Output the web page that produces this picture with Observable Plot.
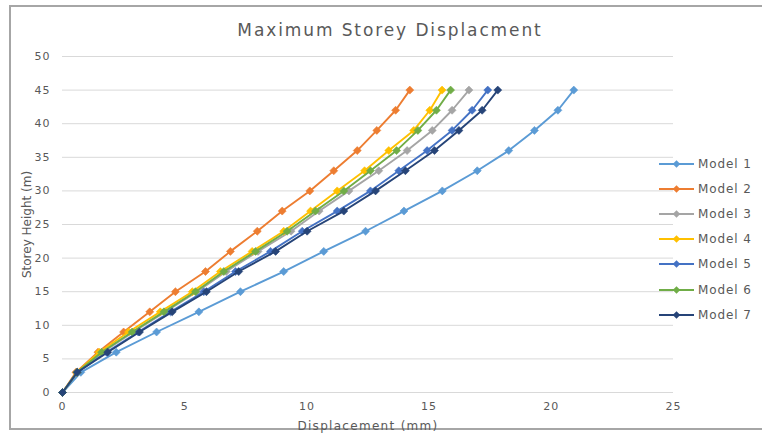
<!DOCTYPE html>
<html>
<head>
<meta charset="utf-8">
<script src="https://cdn.jsdelivr.net/npm/d3@7"></script>
<script src="https://cdn.jsdelivr.net/npm/@observablehq/plot@0.6"></script>
<style>
  body { margin: 0; background: #fff; }
  #chart { position: relative; width: 762px; height: 434px; overflow: hidden; font-family: "DejaVu Sans", sans-serif; }
  #frame { position: absolute; left: 9px; top: 5px; width: 820px; height: 425px; border: 2px solid #a6a6a6; box-sizing: border-box; }
  #title { position: absolute; top: 20px; left: 0; width: 780px; text-align: center; font-size: 17px; letter-spacing: 1.9px; color: #595959; }
  #plot { position: absolute; left: 0; top: 0; }
  #legend { position: absolute; left: 658px; top: 151px; }
  .item { display: flex; align-items: center; height: 25.2px; font-size: 12px; letter-spacing: 0.9px; color: #595959; }
  .item svg { margin-right: 3px; }
</style>
</head>
<body>
<div id="chart">
  <div id="frame"></div>
  <div id="title">Maximum Storey Displacment</div>
  <div id="plot"></div>
  <div id="legend"></div>
</div>
<script>
// Storey heights (m) at each floor level
const storeys = [0, 3, 6, 9, 12, 15, 18, 21, 24, 27, 30, 33, 36, 39, 42, 45];

// Maximum displacement (mm) per storey for each model
const model1 = [0, 0.75, 2.2, 3.85, 5.58, 7.28, 9.05, 10.69, 12.4, 13.97, 15.54, 16.97, 18.26, 19.31, 20.27, 20.92];
const model2 = [0, 0.55, 1.45, 2.5, 3.57, 4.62, 5.85, 6.87, 7.97, 8.99, 10.12, 11.1, 12.06, 12.86, 13.63, 14.21];
const model3 = [0, 0.6, 1.65, 2.9, 4.2, 5.5, 6.7, 8.0, 9.35, 10.5, 11.72, 12.94, 14.1, 15.13, 15.94, 16.63];
const model4 = [0, 0.58, 1.5, 2.7, 4.0, 5.31, 6.46, 7.76, 9.05, 10.15, 11.24, 12.36, 13.35, 14.37, 15.03, 15.53];
const model5 = [0, 0.6, 1.8, 3.1, 4.42, 5.78, 7.08, 8.51, 9.81, 11.24, 12.6, 13.76, 14.92, 15.94, 16.76, 17.4];
const model6 = [0, 0.6, 1.6, 2.85, 4.15, 5.44, 6.6, 7.9, 9.19, 10.35, 11.51, 12.6, 13.67, 14.54, 15.3, 15.88];
const model7 = [0, 0.6, 1.85, 3.15, 4.49, 5.89, 7.21, 8.72, 10.01, 11.51, 12.81, 14.03, 15.22, 16.22, 17.17, 17.81];

const seriesNames = ["Model 1", "Model 2", "Model 3", "Model 4", "Model 5", "Model 6", "Model 7"];
const seriesValues = [model1, model2, model3, model4, model5, model6, model7];
const seriesColors = ["#5b9bd5", "#ed7d31", "#a5a5a5", "#ffc000", "#4472c4", "#70ad47", "#264478"];

const xTicks = [0, 5, 10, 15, 20, 25];
const yTicks = [0, 5, 10, 15, 20, 25, 30, 35, 40, 45, 50];

const rows = seriesNames.flatMap((name, i) =>
  storeys.map((h, j) => ({model: name, height: h, disp: seriesValues[i][j]}))
);

// Each series drawn as a line with diamond markers, later series on top
const seriesMarks = seriesNames.flatMap((name, i) => {
  const data = rows.filter(d => d.model === name);
  return [
    Plot.line(data, {x: "disp", y: "height", stroke: seriesColors[i], strokeWidth: 1.9}),
    Plot.dot(data, {x: "disp", y: "height", symbol: "diamond2", r: 3.6, fill: seriesColors[i], stroke: seriesColors[i], strokeWidth: 0.6})
  ];
});

const chart = Plot.plot({
  width: 762,
  height: 434,
  marginLeft: 62,
  marginRight: 89,
  marginTop: 56,
  marginBottom: 42,
  style: {fontFamily: "'DejaVu Sans', sans-serif", background: "transparent", letterSpacing: "1px"},
  x: {domain: [0, 25]},
  y: {domain: [0, 50]},
  marks: [
    Plot.gridY(yTicks, {stroke: "#d9d9d9", strokeOpacity: 1, strokeWidth: 1}),
    Plot.axisY(yTicks, {tickSize: 0, tickPadding: 12, color: "#595959", fontSize: 11,
      label: "Storey Height (m)", labelAnchor: "center", labelOffset: 40, labelArrow: false}),
    Plot.axisX(xTicks, {tickSize: 0, tickPadding: 10, color: "#595959", fontSize: 11,
      label: "Displacement (mm)", labelAnchor: "center", labelOffset: 37, labelArrow: false}),
    ...seriesMarks
  ]
});

// Axis titles: vertical title unspaced, horizontal title slightly wider spaced
d3.select(chart).selectAll('g[aria-label="y-axis label"] text')
  .style("letter-spacing", "0px").attr("font-size", 12);
d3.select(chart).selectAll('g[aria-label="x-axis label"] text')
  .style("letter-spacing", "1.3px").attr("font-size", 12);
document.getElementById("plot").appendChild(chart);

// Legend: line with a diamond marker, followed by the series name
const legend = document.getElementById("legend");
seriesNames.forEach((name, i) => {
  const item = document.createElement("div");
  item.className = "item";
  const c = seriesColors[i];
  item.innerHTML =
    `<svg width="37" height="10"><line x1="1" y1="5" x2="36" y2="5" stroke="${c}" stroke-width="1.9"/>` +
    `<path d="M18.5,1.2L22.3,5L18.5,8.8L14.7,5Z" fill="${c}"/></svg><span>${name}</span>`;
  legend.appendChild(item);
});
</script>
</body>
</html>
